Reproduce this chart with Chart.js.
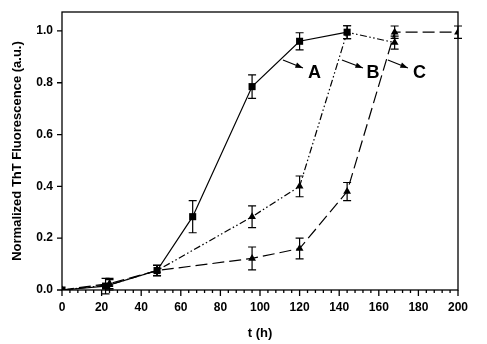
<!DOCTYPE html>
<html>
<head>
<meta charset="utf-8">
<script src="https://cdn.jsdelivr.net/npm/chart.js@4.4.1/dist/chart.umd.min.js"></script>
<style>
  body { margin: 0; background: #fff; }
</style>
</head>
<body>
<canvas id="thtChart" width="487" height="344"></canvas>
<script>
// series A - squares, solid line
let timeA = [0, 22, 48, 66, 96, 120, 144];
let valA  = [0, 0.015, 0.075, 0.283, 0.785, 0.96, 0.995];
let errA  = [0, 0.03, 0.02, 0.062, 0.045, 0.033, 0.025];

// series B - triangles, dash-dot-dot
let timeB = [0, 24, 48, 96, 120, 144, 168];
let valB  = [0, 0.02, 0.075, 0.283, 0.40, 0.995, 0.955];
let errB  = [0, 0.02, 0.02, 0.042, 0.04, 0.025, 0.025];

// series C - triangles, long dash
let timeC = [0, 24, 48, 96, 120, 144, 168, 200];
let valC  = [0, 0.025, 0.075, 0.122, 0.16, 0.38, 0.995, 0.995];
let errC  = [0, 0.02, 0.02, 0.044, 0.04, 0.035, 0.024, 0.024];

let yTickValues = [0, 0.2, 0.4, 0.6, 0.8, 1.0];
let curveLabels = ['A', 'B', 'C'];

// label arrows, in data units: [t0, y0, t1, y1, textT, textY]
let labelArrows = [
  [111.6, 0.888, 121.7, 0.857, 124.2, 0.842],
  [141.4, 0.888, 152.0, 0.857, 153.8, 0.842],
  [164.6, 0.888, 174.7, 0.857, 177.3, 0.842]
];

const FONT = "'Liberation Sans', Arial, sans-serif";

function pts(ts, vs) {
  return ts.map((t, i) => ({ x: t, y: vs[i] }));
}

let errorBarPlugin = {
  id: 'errorBars',
  afterDatasetsDraw(chart) {
    let ctx = chart.ctx;
    let xs = chart.scales.x, ys = chart.scales.y;
    let errs = [errA, errB, errC];
    ctx.save();
    ctx.strokeStyle = '#000';
    ctx.lineWidth = 1.2;
    chart.data.datasets.forEach((ds, d) => {
      ds.data.forEach((p, i) => {
        let e = errs[d][i];
        if (!e) return;
        let px = xs.getPixelForValue(p.x);
        let top = ys.getPixelForValue(p.y + e);
        let bot = ys.getPixelForValue(p.y - e);
        ctx.beginPath();
        ctx.moveTo(px, top); ctx.lineTo(px, bot);
        ctx.moveTo(px - 4, top); ctx.lineTo(px + 4, top);
        ctx.moveTo(px - 4, bot); ctx.lineTo(px + 4, bot);
        ctx.stroke();
      });
    });
    ctx.restore();
  }
};

let frameAndLabels = {
  id: 'frameAndLabels',
  afterDraw(chart) {
    let ctx = chart.ctx;
    let a = chart.chartArea;
    let xs = chart.scales.x, ys = chart.scales.y;
    ctx.save();
    ctx.strokeStyle = '#000';
    ctx.lineWidth = 1.3;
    ctx.strokeRect(a.left, a.top, a.right - a.left, a.bottom - a.top);

    // x ticks: major every 20, minor every 4
    ctx.beginPath();
    xs.ticks.forEach(t => {
      let px = xs.getPixelForValue(t.value);
      let len = (Math.round(t.value) % 20 === 0) ? 6 : 3;
      ctx.moveTo(px, a.bottom); ctx.lineTo(px, a.bottom + len);
    });
    // y ticks
    yTickValues.forEach(v => {
      let py = ys.getPixelForValue(v);
      ctx.moveTo(a.left, py); ctx.lineTo(a.left - 5, py);
    });
    ctx.stroke();

    // A / B / C arrows
    ctx.fillStyle = '#000';
    ctx.lineWidth = 1.1;
    ctx.font = 'bold 18px ' + FONT;
    ctx.textBaseline = 'middle';
    ctx.textAlign = 'left';
    labelArrows.forEach((r, i) => {
      let x0 = xs.getPixelForValue(r[0]), y0 = ys.getPixelForValue(r[1]);
      let x1 = xs.getPixelForValue(r[2]), y1 = ys.getPixelForValue(r[3]);
      let ang = Math.atan2(y1 - y0, x1 - x0);
      ctx.beginPath();
      ctx.moveTo(x0, y0); ctx.lineTo(x1, y1);
      ctx.stroke();
      ctx.beginPath();
      ctx.moveTo(x1, y1);
      ctx.lineTo(x1 - 8 * Math.cos(ang - 0.35), y1 - 8 * Math.sin(ang - 0.35));
      ctx.lineTo(x1 - 8 * Math.cos(ang + 0.35), y1 - 8 * Math.sin(ang + 0.35));
      ctx.closePath();
      ctx.fill();
      ctx.fillText(curveLabels[i], xs.getPixelForValue(r[4]), ys.getPixelForValue(r[5]) + 1);
    });
    ctx.restore();
  }
};

let thtChart = new Chart(document.getElementById('thtChart'), {
  type: 'line',
  data: {
    datasets: [{
      label: 'A',
      data: pts(timeA, valA),
      borderColor: '#000',
      backgroundColor: '#000',
      borderWidth: 1.2,
      pointStyle: 'rect',
      pointRadius: 5,
      pointBorderWidth: 0,
      fill: false
    }, {
      label: 'B',
      data: pts(timeB, valB),
      borderColor: '#000',
      backgroundColor: '#000',
      borderWidth: 1.2,
      borderDash: [7, 2.5, 1.5, 2.5, 1.5, 2.5],
      pointStyle: 'triangle',
      pointRadius: 4.5,
      pointBorderWidth: 0,
      fill: false
    }, {
      label: 'C',
      data: pts(timeC, valC),
      borderColor: '#000',
      backgroundColor: '#000',
      borderWidth: 1.2,
      borderDash: [12, 5],
      pointStyle: 'triangle',
      pointRadius: 4.5,
      pointBorderWidth: 0,
      fill: false
    }]
  },
  options: {
    responsive: false,
    animation: false,
    layout: { padding: { top: 12, right: 29, bottom: 0, left: 0 } },
    plugins: {
      legend: { display: false },
      tooltip: { enabled: false }
    },
    scales: {
      x: {
        type: 'linear',
        min: 0,
        max: 200,
        grid: { display: false },
        border: { display: false },
        afterFit(scale) { scale.height = 54; },
        ticks: {
          stepSize: 4,
          autoSkip: false,
          maxRotation: 0,
          padding: 2,
          color: '#000',
          font: { family: FONT, size: 12, weight: 'bold' },
          callback: v => (Math.round(v) % 20 === 0 ? String(v) : '')
        },
        title: {
          display: true,
          text: 't (h)',
          color: '#000',
          padding: { top: 3, bottom: 3 },
          font: { family: FONT, size: 13, weight: 'bold' }
        }
      },
      y: {
        min: 0,
        max: 1.073,
        grid: { display: false },
        border: { display: false },
        afterFit(scale) { scale.width = 62; },
        afterBuildTicks(scale) { scale.ticks = yTickValues.map(v => ({ value: v })); },
        ticks: {
          padding: 1,
          color: '#000',
          font: { family: FONT, size: 12, weight: 'bold' },
          callback: v => v.toFixed(1)
        },
        title: {
          display: true,
          text: 'Normalized ThT Fluorescence (a.u.)',
          color: '#000',
          padding: { top: 10, bottom: 0 },
          font: { family: FONT, size: 13, weight: 'bold' }
        }
      }
    }
  },
  plugins: [errorBarPlugin, frameAndLabels]
});
</script>
</body>
</html>
